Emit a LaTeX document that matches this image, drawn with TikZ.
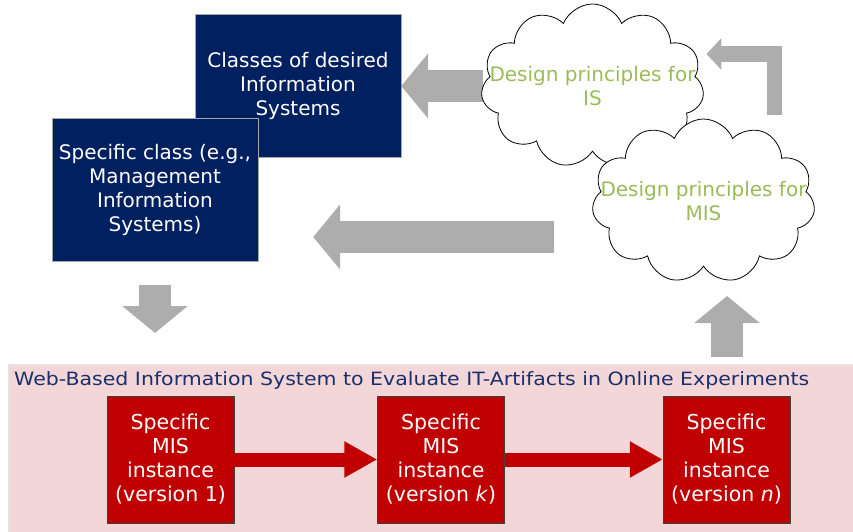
\documentclass[tikz,border=0pt]{standalone}
\usepackage{fontspec}
\setmainfont{DejaVu Sans}
\newfontfamily\widefont{DejaVu Sans}[FakeStretch=1.12]
\usetikzlibrary{shapes.symbols,arrows.meta,backgrounds}
\definecolor{navyblue}{HTML}{002060}
\definecolor{darkred}{HTML}{C00000}
\definecolor{leafgreen}{HTML}{9BBB59}
\definecolor{blockgray}{HTML}{ADADAD}
\definecolor{rosebg}{HTML}{F3D6D7}
\definecolor{titleblue}{HTML}{1A2F6B}

\begin{document}
\begin{tikzpicture}[x=1pt,y=-1pt,
    classbox/.style={draw=gray!70, fill=navyblue, text=white, align=center, inner sep=0pt,
        minimum width=206pt, minimum height=143pt, font=\fontsize{20}{24}\selectfont},
    cloudshape/.style={cloud, draw, line width=0.8pt, fill=white, cloud puffs=11, cloud puff arc=135,
        cloud ignores aspect, inner sep=0pt, minimum width=223pt, minimum height=164pt},
    cloudlabel/.style={text=leafgreen, align=center, font=\fontsize{20}{24}\selectfont},
    misbox/.style={draw=black!75, fill=darkred, text=white, align=center, inner sep=0pt,
        minimum width=127pt, minimum height=127pt, font=\fontsize{20.5}{24}\selectfont},
    grayarrow/.style={draw=blockgray, line width=32pt, -{Triangle[width=64pt,length=27pt]}},
    redarrow/.style={draw=darkred, line width=14pt, -{Triangle[width=34pt,length=33pt]}}]
    \useasboundingbox (0,0) rectangle (853,532);

    \node[draw=gray!20, fill=rosebg, anchor=north west, minimum width=860pt,
        minimum height=180pt] (band) at (8,364) {};
    \node[anchor=west, text=titleblue, inner sep=0pt, font=\widefont\fontsize{18.3}{20}\selectfont]
        (title) at (14,380) {Web-Based Information System to Evaluate IT-Artifacts in Online Experiments};

    \node[misbox] (mis1) at (170.5,459.5) {Specific\\MIS\\instance\\(version 1)};
    \node[misbox] (misk) at (441,459.5) {Specific\\MIS\\instance\\(version \textit{k})};
    \node[misbox] (misn) at (726.5,459.5) {Specific\\MIS\\instance\\(version \textit{n})};
    \draw[redarrow] (mis1) -- (misk);
    \draw[redarrow] (misk) -- (misn);

    \node[classbox] (classes) at (298,86) {Classes of desired\\Information\\Systems};
    \node[classbox] (specific) at (155,189.5) {Specific class (e.g.,\\Management\\Information\\Systems)};

    \node[cloudshape] (cloudIS) at (592.5,86) {};
    \node[cloudlabel] (labelIS) at (cloudIS) {Design principles for\\IS};
    \node[cloudshape] (cloudMIS) at (703.5,201) {};
    \node[cloudlabel] (labelMIS) at (cloudMIS) {Design principles for\\MIS};

    \coordinate (bigrow) at (0,237);
    \coordinate (uptip) at (727,296);
    \coordinate (bendtop) at (774.5,54);
    \begin{scope}[on background layer]
        \draw[grayarrow] (cloudIS.west |- classes.east) -- (classes.east);
        \draw[grayarrow, shorten <=40pt, shorten >=55pt] (cloudMIS.west |- bigrow) -- (specific.east |- bigrow);
        \draw[grayarrow, shorten <=24pt, shorten >=31pt] (specific.south) -- (specific.south |- band.north);
        \draw[grayarrow, shorten <=7pt] (uptip |- band.north) -- (uptip);
        \draw[draw=blockgray, line width=15.5pt, line join=miter, -{Triangle[width=31pt,length=15pt]},
            shorten <=4pt, shorten >=4pt] (bendtop |- cloudMIS.north) -- (bendtop) -- (cloudIS.east |- bendtop);
    \end{scope}
\end{tikzpicture}
\end{document}
